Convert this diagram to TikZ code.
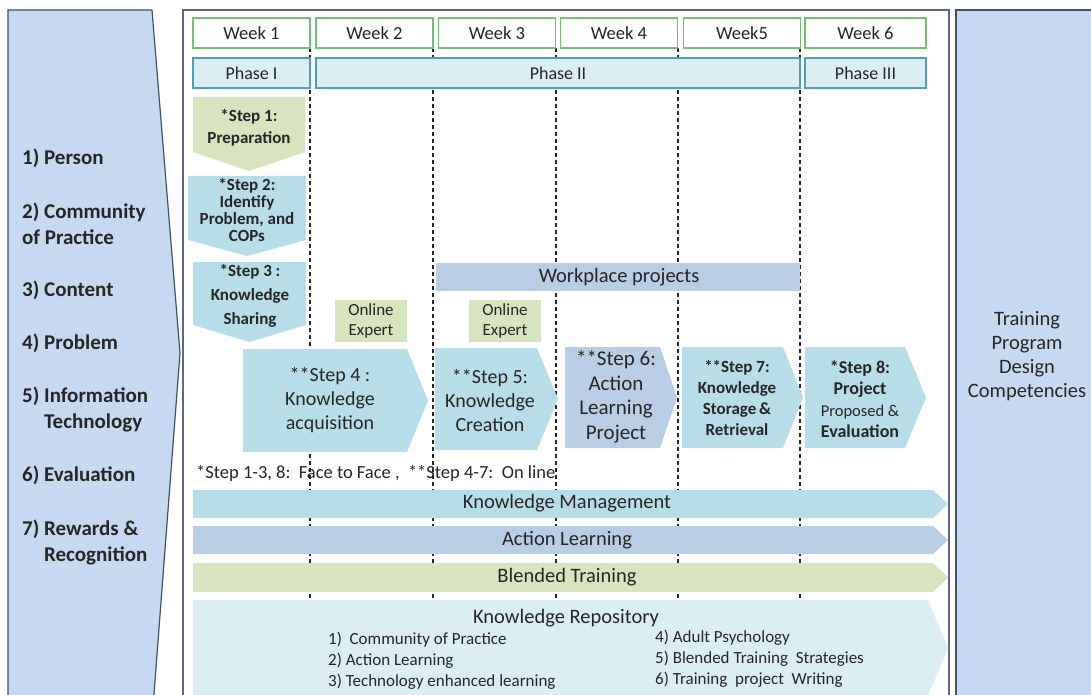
\documentclass[tikz,border=0pt]{standalone}
\usepackage{fontspec}
\setmainfont{Carlito}
\usepackage{tikz}

\definecolor{panelblue}{HTML}{C6D9F1}
\definecolor{paneledge}{HTML}{3E5170}
\definecolor{frameedge}{HTML}{5A6A85}
\definecolor{weekgreen}{HTML}{72C172}
\definecolor{phasefill}{HTML}{DBEEF4}
\definecolor{phaseedge}{HTML}{4E9FB9}
\definecolor{aqua}{HTML}{B7DDE8}
\definecolor{steel}{HTML}{B9CDE5}
\definecolor{olive}{HTML}{D7E4BD}
\definecolor{textgray}{HTML}{262626}

\tikzset{
  week/.style={draw=weekgreen,line width=1.4pt,fill=white,minimum height=30pt,
    minimum width=117pt,inner sep=0pt,font=\fontsize{18.5}{20}\selectfont},
  phase/.style={draw=phaseedge,line width=1.4pt,fill=phasefill,minimum height=30pt,
    inner sep=0pt,font=\fontsize{18}{20}\selectfont},
  sideitem/.style={anchor=west,align=left,inner sep=0pt,
    font=\bfseries\fontsize{21}{26}\selectfont},
  steptext/.style={align=center,inner sep=0pt,font=\bfseries\fontsize{17}{22}\selectfont},
  onlinetext/.style={align=center,inner sep=0pt,font=\fontsize{20}{24}\selectfont},
  experttext/.style={align=center,inner sep=0pt,font=\fontsize{17}{20}\selectfont},
  bartext/.style={inner sep=0pt,font=\fontsize{20.5}{22}\selectfont},
  listtext/.style={anchor=west,inner sep=0pt,font=\fontsize{17}{18}\selectfont},
  weekline/.style={draw=textgray,line width=1.3pt,dash pattern=on 4pt off 3pt}
}

% down pointing step: colour, left, right, top, side end, tip
\newcommand{\downstep}[6]{%
  \fill[#1] (#2,#4) -- (#3,#4) -- (#3,#5) -- ({(#2+#3)/2},#6) -- (#2,#5) -- cycle;}
% right pointing step: colour, left, straight end, tip, top, bottom
\newcommand{\rightstep}[6]{%
  \fill[#1] (#2,#5) -- (#3,#5) -- (#4,{(#5+#6)/2}) -- (#3,#6) -- (#2,#6) -- cycle;}

\begin{document}
\begin{tikzpicture}[x=1pt,y=-1pt,text=textgray]
\useasboundingbox (0,0) rectangle (1091,695);

% side panels and the frame
\draw[fill=panelblue,draw=paneledge,line width=1.2pt]
  (8,720) -- (8,10) -- (152,10) -- (180,353) -- (152,720);
\draw[fill=panelblue,draw=paneledge,line width=1.2pt] (956,10) rectangle (1110,720);
\draw[draw=frameedge,line width=1.5pt,fill=white] (183,10) rectangle (949,720);

% week separators
\foreach \x in {310,433,556,678,800}
  \draw[weekline] (\x,48) -- (\x,600);

% weeks and phases
\node[week] (week1) at (251.5,33) {Week 1};
\node[week] (week2) at (374.5,33) {Week 2};
\node[week] (week3) at (497,33) {Week 3};
\node[week] (week4) at (619,33) {Week 4};
\node[week] (week5) at (742,33) {Week5};
\node[week,minimum width=121pt] (week6) at (865.5,33) {Week 6};

\node[phase,minimum width=117pt] (phase1) at (251.5,73) {Phase I};
\node[phase,minimum width=484pt] (phase2) at (558,73) {Phase II};
\node[phase,minimum width=121pt] (phase3) at (865.5,73) {Phase III};

% face to face steps
\downstep{olive}{193}{305}{97}{152}{171}
\node[steptext] (step1) at (249,128) {*Step 1:\\Preparation};
\downstep{aqua}{188}{306}{176}{240}{256}
\node[steptext,font=\bfseries\fontsize{17}{17}\selectfont] (step2) at (247,210)
  {*Step 2:\\Identify\\Problem, and\\COPs};
\downstep{aqua}{193}{306}{262}{325}{342}
\node[steptext,font=\bfseries\fontsize{17}{24}\selectfont] (step3) at (250,296)
  {*Step 3 :\\Knowledge\\Sharing};

% workplace projects and online experts
\fill[steel] (436,263) rectangle (800,291);
\node[bartext] (workplace) at (619,277) {Workplace projects};
\fill[olive] (335,300) rectangle (407,342);
\node[experttext] (expert1) at (371,321) {Online\\Expert};
\fill[olive] (469,300) rectangle (541,342);
\node[experttext] (expert2) at (505,321) {Online\\Expert};

% online steps
\rightstep{aqua}{243}{407}{428}{349}{452}
\node[onlinetext] (step4) at (330,400) {**Step 4 :\\Knowledge\\acquisition};
\rightstep{aqua}{435}{537}{558}{348}{450}
\node[onlinetext] (step5) at (490,400) {**Step 5:\\Knowledge\\Creation};
\rightstep{steel}{565}{660}{677}{347}{448}
\node[onlinetext,font=\fontsize{21}{24.5}\selectfont] (step6) at (616,397)
  {**Step 6:\\Action\\Learning\\Project};
\rightstep{aqua}{682}{783}{803}{347}{448}
\node[steptext,font=\bfseries\fontsize{17}{21}\selectfont] (step7) at (737,398)
  {**Step 7:\\Knowledge\\Storage\,\&\\Retrieval};
\rightstep{aqua}{805}{905}{926}{347}{448}
\node[steptext,font=\bfseries\fontsize{18}{21.5}\selectfont] (step8) at (860,399)
  {*Step 8:\\Project\\{\mdseries\fontsize{16.5}{21.5}\selectfont Proposed \&}\\Evaluation};

\node[anchor=west,inner sep=0pt,font=\fontsize{18.5}{20}\selectfont] (note) at (196,473)
  {*Step 1-3, 8:\ \ Face to Face ,\ \ **Step 4-7:\ \ On line};

% strategies
\rightstep{aqua}{193}{933}{948}{490}{518}
\node[bartext] (km) at (567,503) {Knowledge Management};
\rightstep{steel}{193}{933}{948}{526}{554}
\node[bartext] (al) at (567,540) {Action Learning};
\rightstep{olive}{193}{933}{948}{563}{592}
\node[bartext] (bt) at (567,577) {Blended Training};

% repository
\rightstep{phasefill}{193}{928}{948}{600}{696}
\node[bartext] (repo) at (566,618) {Knowledge Repository};
\node[listtext] (repo1) at (328,640) {1)\ \ Community\ of Practice};
\node[listtext] (repo2) at (328,661) {2)\ Action Learning};
\node[listtext] (repo3) at (328,682) {3)\ Technology enhanced\ learning};
\node[listtext] (repo4) at (655,638) {4) Adult Psychology};
\node[listtext] (repo5) at (655,659) {5) Blended Training\ \ Strategies};
\node[listtext] (repo6) at (655,680) {6) Training\ \ project\ \ Writing};

% components on the left
\node[sideitem] (person) at (22,158) {1) Person};
\node[sideitem] (cop) at (22,224) {2) Community\\of Practice};
\node[sideitem] (content) at (22,290) {3) Content};
\node[sideitem] (problem) at (22,343) {4) Problem};
\node[sideitem] (it) at (22,409) {5) Information\\\phantom{5) }Technology};
\node[sideitem] (evaluation) at (22,475) {6) Evaluation};
\node[sideitem] (rewards) at (22,542) {7) Rewards \&\\\phantom{7) }Recognition};

% outcome on the right
\node[align=center,inner sep=0pt,font=\fontsize{20.5}{24}\selectfont] (outcome) at (1027,356)
  {Training\\Program\\Design\\Competencies};
\end{tikzpicture}
\end{document}
